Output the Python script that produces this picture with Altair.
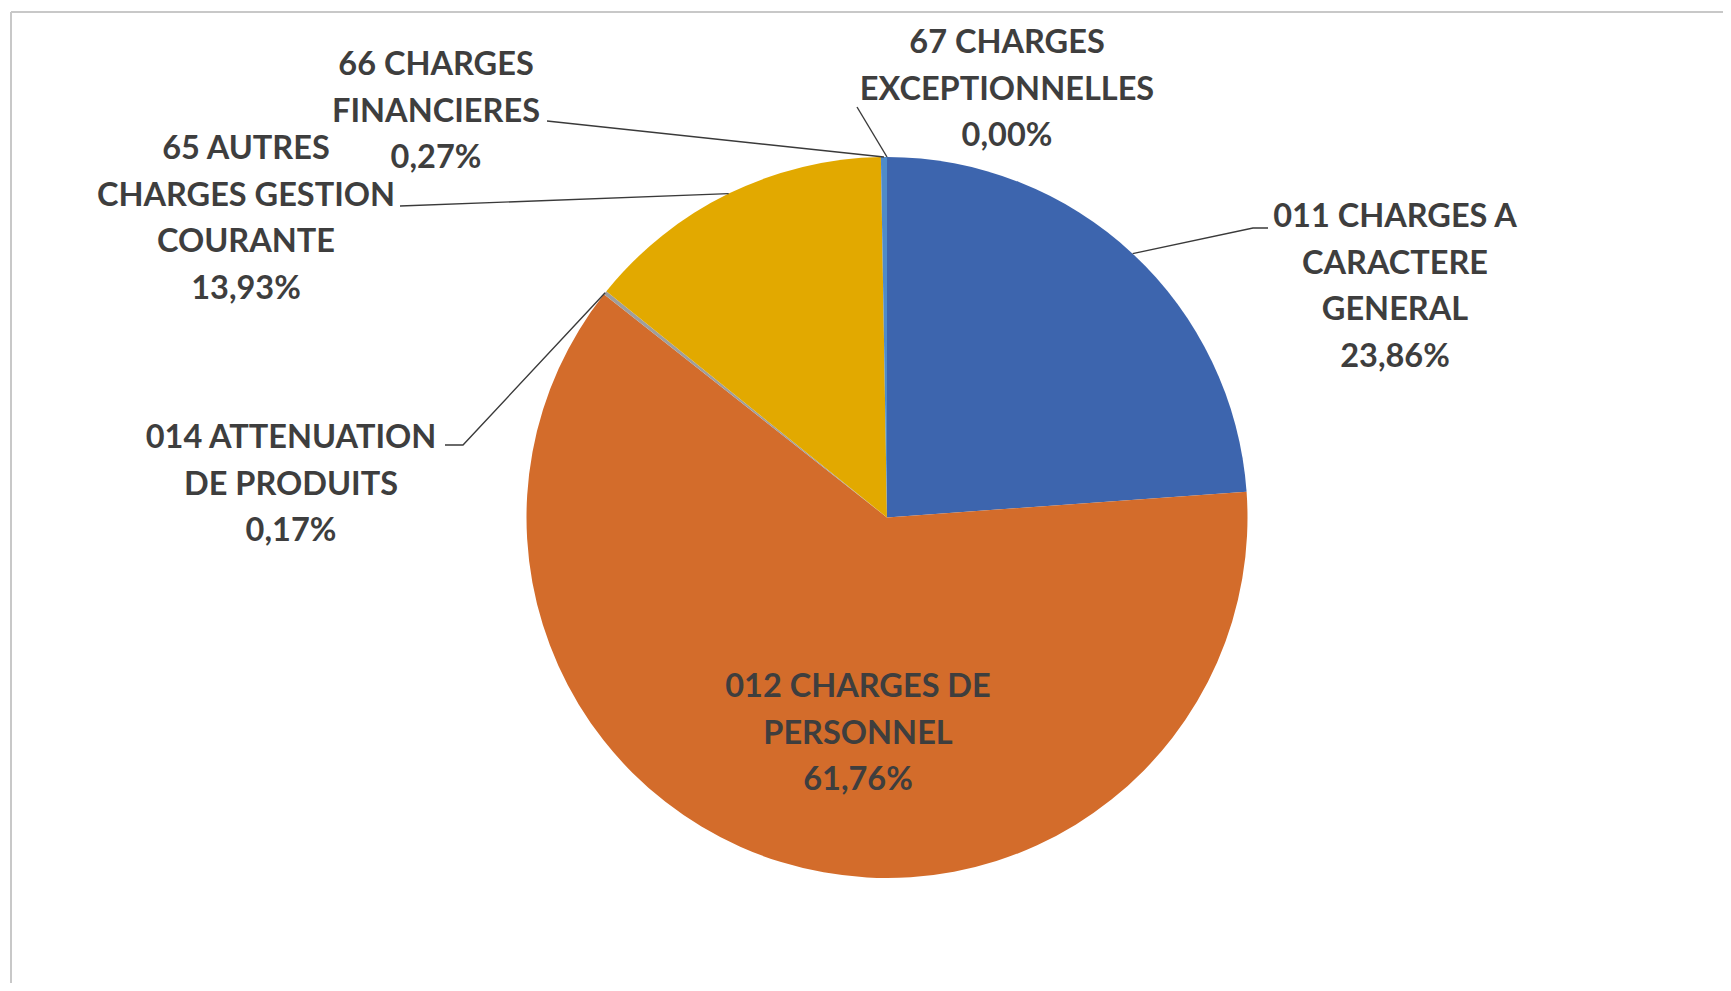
import math
import altair as alt
import pandas as pd

# ---- data -------------------------------------------------------------
categories = [
    "011 CHARGES A CARACTERE GENERAL",
    "012 CHARGES DE PERSONNEL",
    "014 ATTENUATION DE PRODUITS",
    "65 AUTRES CHARGES GESTION COURANTE",
    "66 CHARGES FINANCIERES",
    "67 CHARGES EXCEPTIONNELLES",
]
label_lines = [
    ["011 CHARGES A", "CARACTERE", "GENERAL"],
    ["012 CHARGES DE", "PERSONNEL"],
    ["014 ATTENUATION", "DE PRODUITS"],
    ["65 AUTRES", "CHARGES GESTION", "COURANTE"],
    ["66 CHARGES", "FINANCIERES"],
    ["67 CHARGES", "EXCEPTIONNELLES"],
]
shares = [23.86, 61.76, 0.17, 13.93, 0.27, 0.00]
colors = ["#3D65AE", "#D36C2B", "#9E9E9E", "#E2A900", "#4F8BC9", "#5E9A3C"]

# ---- layout (pixels in plot coordinates) -----------------------------
W, H = 1715, 975
CX, CY, R = 879, 509.5, 360.5
label_pos = [(1387, 219), (850, 689), (283, 440), (238, 151), (428, 67), (999, 45)]
leader_bends = [
    [(1245, 220), (1260, 220)],
    [],
    [(455, 437), (437, 437)],
    [(392, 198)],
    [(539, 113)],
    [(849, 99)],
]
TEXT_COLOR = "#3E3E3E"

# ---- tables -----------------------------------------------------------
pie_df = pd.DataFrame({"cat": categories, "share": shares, "idx": range(len(categories))})

total = sum(shares)
lab_rows, line_rows = [], []
cum = 0.0
for i, (cat, v) in enumerate(zip(categories, shares)):
    mid = (cum + v / 2) / total * 2 * math.pi
    cum += v
    pct = f"{v:.2f}".replace(".", ",") + "%"
    lx, ly = label_pos[i]
    lab_rows.append({"cat": cat, "label": "\n".join(label_lines[i] + [pct]), "lx": lx, "ly": ly})
    if leader_bends[i]:
        sx = CX + R * math.sin(mid)
        sy = CY - R * math.cos(mid)
        pts = [(sx, sy)] + leader_bends[i]
        for k, (px, py) in enumerate(pts):
            line_rows.append({"cat": cat, "k": k, "px": px, "py": py})
lab_df = pd.DataFrame(lab_rows)
line_df = pd.DataFrame(line_rows)

# ---- chart ------------------------------------------------------------
pie = alt.Chart(pie_df).mark_arc(radius=R).encode(
    theta=alt.Theta("share:Q", stack=True),
    color=alt.Color("cat:N", scale=alt.Scale(domain=categories, range=colors), legend=None),
    order=alt.Order("idx:Q"),
    x=alt.value(CX),
    y=alt.value(CY),
)

leaders = alt.Chart(line_df).mark_line(color="#3a3a3a", strokeWidth=1.4).encode(
    x=alt.X("px:Q", scale=None, axis=None),
    y=alt.Y("py:Q", scale=None, axis=None),
    detail="cat:N",
    order="k:Q",
)

labels = alt.Chart(lab_df).mark_text(
    font="Lato", fontWeight="bold", fontSize=32.5, color=TEXT_COLOR,
    lineBreak="\n", lineHeight=46.5, align="center", baseline="alphabetic",
).encode(
    x=alt.X("lx:Q", scale=None, axis=None),
    y=alt.Y("ly:Q", scale=None, axis=None),
    text="label:N",
)

frame_top = alt.Chart(pie_df).mark_rule(color="#c8c8c8", strokeWidth=2).encode(
    x=alt.value(3), x2=alt.value(W), y=alt.value(4)
)
frame_left = alt.Chart(pie_df).mark_rule(color="#c8c8c8", strokeWidth=2).encode(
    x=alt.value(3), y=alt.value(4), y2=alt.value(H)
)

chart = alt.layer(frame_top, frame_left, pie, leaders, labels).properties(
    width=W, height=H, padding=0, autosize="none", background="white"
).configure_view(stroke=None)

chart.save("out.html", embed_options={"renderer": "svg", "actions": False})
